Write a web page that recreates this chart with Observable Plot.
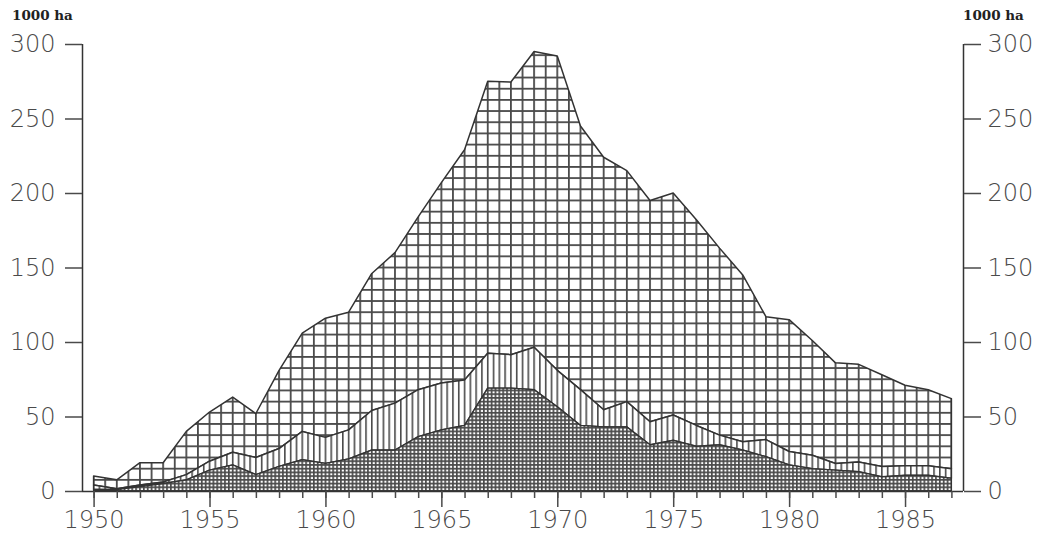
<!DOCTYPE html>
<html><head><meta charset="utf-8">
<script src="https://cdn.jsdelivr.net/npm/d3@7"></script>
<script src="https://cdn.jsdelivr.net/npm/@observablehq/plot@0.6"></script>
<style>
body{margin:0;background:#fff}
#chart{width:1040px;height:540px}
</style>
</head><body><div id="chart"></div>
<script>
// ---- data (1000 ha), cumulative boundary curves ----
const years = [1950,1951,1952,1953,1954,1955,1956,1957,1958,1959,1960,1961,1962,1963,1964,1965,1966,1967,1968,1969,1970,1971,1972,1973,1974,1975,1976,1977,1978,1979,1980,1981,1982,1983,1984,1985,1986,1987];
const lowerCurve = [1,1,3,5,7.5,14,17.5,11,16.5,21,18.5,21.5,27.5,27.5,36.5,41,44,69,69,68,56.5,44,43,43,31,34,30,31,27.5,23,17.5,15,14,13,9.5,10.5,10.5,8.5];
const middleCurve = [4,1.5,4,6,11,20,26,22.5,28.5,40,36,41,54,59,68,72.5,74.5,92.5,91.5,96.5,81,68,54.5,60,46.5,51,44,37.5,33,34.5,26.5,24,18.5,19.5,16.5,17,17,15];
const totalCurve = [10,7.5,19,19,40,53,63,52,81,106,116,120,146,160,184,207,229,275,274.5,295,292,245,224,215,195,200,182,163,145,117,115,101,86,85,78,71,68,62];
const yTicks = [0,50,100,150,200,250,300];
const xMajorTicks = [1950,1955,1960,1965,1970,1975,1980,1985];
const unitLabel = "1000 ha";

const rows = years.map((year,i)=>({year, lower: lowerCurve[i], middle: middleCurve[i], total: totalCurve[i]}));

const ink = "#333";
const chart = Plot.plot({
  width: 1040, height: 540,
  marginLeft: 82, marginRight: 77, marginTop: 44, marginBottom: 49,
  x: {domain: [1949.5, 1987.5]},
  y: {domain: [0, 300]},
  style: {background: "#fff", color: "#4a4a4a", fontFamily: "DejaVu Sans", fontSize: "24px", fontWeight: 200, overflow: "visible"},
  marks: [
    Plot.areaY(rows, {x: "year", y1: "middle", y2: "total", fill: "url(#pat-grid)", stroke: ink, strokeWidth: 1.5}),
    Plot.areaY(rows, {x: "year", y1: "lower", y2: "middle", fill: "url(#pat-vert)", stroke: ink, strokeWidth: 1.5}),
    Plot.areaY(rows, {x: "year", y1: 0, y2: "lower", fill: "url(#pat-dense)", stroke: ink, strokeWidth: 1.3}),
    Plot.ruleX([1949.5, 1987.5], {y1: 0, y2: 300, stroke: ink, strokeWidth: 1.5}),
    Plot.ruleY([0], {stroke: ink, strokeWidth: 1.5}),
    Plot.axisY({ticks: yTicks, anchor: "left", tickSize: 17, tickPadding: 10, label: null, strokeWidth: 1.5}),
    Plot.axisY({ticks: yTicks, anchor: "right", tickSize: 17, tickPadding: 7, label: null, strokeWidth: 1.5}),
    Plot.axisX({ticks: years, tickSize: 7, tickFormat: () => "", label: null, strokeWidth: 1.5}),
    Plot.axisX({ticks: xMajorTicks, tickSize: 16, tickPadding: 3, tickFormat: d => String(d), label: null, strokeWidth: 1.5})
  ]
});

// ---- hatch patterns aligned to the scales ----
const sx = chart.scale("x"), sy = chart.scale("y");
const x0 = sx.apply(1950), yearW = sx.apply(1951) - x0;
const y0 = sy.apply(0), unitH = sy.apply(0) - sy.apply(1);
const defs = d3.select(chart).insert("defs", ":first-child");
function grid(id, w, h, lw, color, vertOnly) {
  const p = defs.append("pattern").attr("id", id).attr("patternUnits", "userSpaceOnUse")
    .attr("x", x0 - lw/2).attr("y", y0 - lw/2).attr("width", w).attr("height", h);
  p.append("rect").attr("width", w).attr("height", h).attr("fill", "#fff");
  p.append("rect").attr("x", 0).attr("y", 0).attr("width", lw).attr("height", h).attr("fill", color);
  if (!vertOnly) p.append("rect").attr("x", 0).attr("y", 0).attr("width", w).attr("height", lw).attr("fill", color);
}
grid("pat-grid", yearW/2, unitH*7.5, 1.8, "#4a4a4a", false);
grid("pat-vert", yearW/4, 10, 1.6, "#4a4a4a", true);
grid("pat-dense", yearW/6, unitH*2.5, 1.7, "#4a4a4a", false);

// ---- unit labels ----
const svg = d3.select(chart);
[12, 963].forEach(x => {
  svg.append("text").attr("x", x).attr("y", 20).attr("text-anchor", "start")
    .attr("font-family", "DejaVu Serif").attr("font-weight", "bold").attr("font-size", 13.5)
    .attr("fill", "#222").text(unitLabel);
});

document.getElementById("chart").append(chart);
</script>
</body></html>
